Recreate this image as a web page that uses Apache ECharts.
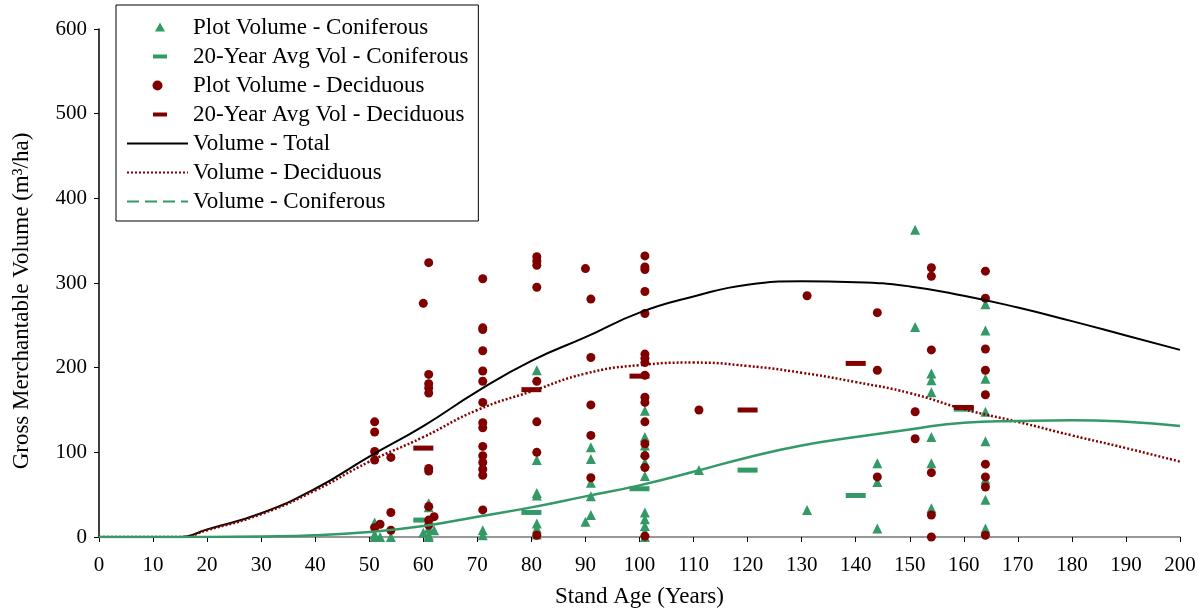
<!DOCTYPE html>
<html>
<head>
<meta charset="utf-8">
<script src="https://cdn.jsdelivr.net/npm/echarts@6/dist/echarts.min.js"></script>
<style>html,body{margin:0;padding:0;background:#fff;}#c{width:1199px;height:614px;}</style>
</head>
<body>
<div id="c"></div>
<script>
// ---- Data ----
const conPlot = [
  [51,17],[51,3],[51,0],[52,0],[54,0],
  [60,5],[61,40],[61,35],[61,10],[61,2],[61,0],[62,8],
  [71,8],[71,2],
  [81,197],[81,91],[81,52],[81,49],[81,16],[81,10],[81,3],
  [90,18],[91,106],[91,92],[91,64],[91,48],[91,26],
  [101,149],[101,118],[101,108],[101,100],[101,88],[101,72],[101,29],[101,21],[101,13],[101,6],[101,0],
  [111,79],[131,32],
  [144,87],[144,65],[144,10],
  [151,363],[151,248],
  [154,193],[154,185],[154,171],[154,118],[154,87],[154,34],
  [164,275],[164,244],[164,187],[164,148],[164,113],[164,68],[164,44],[164,10]
];
const conAvg = [[60,20],[80,29],[100,57],[120,79],[140,49],[160,151]];
const decPlot = [
  [51,136],[51,124],[51,101],[51,91],[52,15],[51,11],
  [54,94],[54,29],[54,8],
  [60,276],[61,324],[61,192],[61,181],[61,176],[61,170],[61,81],[61,78],[61,36],[61,20],[61,14],[62,24],
  [71,305],[71,247],[71,245],[71,220],[71,196],[71,184],[71,159],[71,135],[71,129],[71,107],[71,96],[71,88],[71,80],[71,73],[71,32],
  [81,331],[81,326],[81,321],[81,295],[81,184],[81,136],[81,100],[81,2],
  [90,317],[91,281],[91,212],[91,156],[91,120],[91,70],
  [101,332],[101,319],[101,316],[101,290],[101,264],[101,216],[101,211],[101,206],[101,191],[101,165],[101,159],[101,136],[101,110],[101,96],[101,82],[101,1],
  [111,150],[131,285],
  [144,265],[144,197],[144,71],
  [151,148],[151,116],
  [154,318],[154,308],[154,221],[154,76],[154,26],[154,0],
  [164,314],[164,282],[164,222],[164,197],[164,168],[164,86],[164,71],[164,59],[164,2]
];
const decAvg = [[60,105],[80,174],[100,190],[120,150],[140,205],[160,153]];
const curveAge = [0,10,15,20,30,40,50,60,70,80,90,100,110,120,130,140,150,160,170,180,190,200];
const totalVol = [0,0,0,9,28,57,95,131,172,208,236,265,284,298,302,301,296,285,271,255,238,221];
const decVol   = [0,0,0,8,27,55,89,118,150,172,193,203,206,202,194,183,170,151,136,120,105,89];
const conVol   = [0,0,0,0,0.5,2,6,13,24,35,48,61,77,94,108,118,127,135,137,138,136,131];
const xTicks = {min:0, max:200, interval:10};
const yTicks = {min:0, max:600, interval:100};

const GREEN = '#339966', RED = '#800000';
const FONT = 'Liberation Serif';
const zip = (a,b) => a.map((v,i)=>[v,b[i]]);

const chart = echarts.init(document.getElementById('c'), null, {renderer:'canvas'});
chart.setOption({
  animation:false,
  backgroundColor:'#fff',
  textStyle:{fontFamily:FONT, color:'#000'},
  grid:{left:99, right:19, top:29, bottom:77, containLabel:false},
  xAxis:{
    type:'value', min:xTicks.min, max:xTicks.max, interval:xTicks.interval,
    name:'Stand Age (Years)', nameLocation:'middle', nameGap:48,
    nameTextStyle:{fontFamily:FONT, fontSize:23, color:'#000'},
    axisLine:{show:true, lineStyle:{color:'#777', width:1.5}},
    axisTick:{show:true, inside:false, length:5, lineStyle:{color:'#000'}},
    axisLabel:{fontFamily:FONT, fontSize:21, color:'#000', margin:18},
    splitLine:{show:false}
  },
  yAxis:{
    type:'value', min:yTicks.min, max:yTicks.max, interval:yTicks.interval,
    name:'Gross Merchantable Volume (m³/ha)', nameLocation:'middle', nameGap:66,
    nameTextStyle:{fontFamily:FONT, fontSize:23, color:'#000', padding:[0,36,0,0]},
    axisLine:{show:true, lineStyle:{color:'#000', width:1.5}},
    axisTick:{show:true, inside:false, length:5, lineStyle:{color:'#000'}},
    axisLabel:{fontFamily:FONT, fontSize:21, color:'#000', margin:12},
    splitLine:{show:false}
  },
  legend:{
    orient:'vertical', left:116, top:5,
    padding:[11,10,8,10], itemGap:6, itemWidth:61, itemHeight:10,
    borderColor:'#000', borderWidth:1, backgroundColor:'#fff',
    textStyle:{fontFamily:FONT, fontSize:23, color:'#000'},
    data:[
      {name:'Plot Volume - Coniferous', icon:'path://M0,0 M61,10 M28,9 L33,0 L38,9 Z'},
      {name:'20-Year Avg Vol - Coniferous', icon:'path://M0,0 M61,10 M26,3 h14 v4 h-14 z'},
      {name:'Plot Volume - Deciduous', icon:'circle'},
      {name:'20-Year Avg Vol - Deciduous', icon:'path://M0,0 M61,10 M26,3 h14 v4 h-14 z'},
      {name:'Volume - Total', itemStyle:{opacity:0}},
      {name:'Volume - Deciduous', itemStyle:{opacity:0}},
      {name:'Volume - Coniferous', itemStyle:{opacity:0}, lineStyle:{type:[12,6]}}
    ]
  },
  series:[
    {name:'Plot Volume - Coniferous', type:'scatter', data:conPlot, symbol:'triangle', symbolSize:10, itemStyle:{color:GREEN, opacity:1}, z:2},
    {name:'20-Year Avg Vol - Coniferous', type:'scatter', data:conAvg, symbol:'rect', symbolSize:[20,5], itemStyle:{color:GREEN, opacity:1}, z:2},
    {name:'Plot Volume - Deciduous', type:'scatter', data:decPlot, symbol:'circle', symbolSize:9, itemStyle:{color:RED, opacity:1}, z:3},
    {name:'20-Year Avg Vol - Deciduous', type:'scatter', data:decAvg, symbol:'rect', symbolSize:[20,5], itemStyle:{color:RED, opacity:1}, z:3},
    {name:'Volume - Total', type:'line', data:zip(curveAge,totalVol), symbol:'none', showSymbol:false, smooth:0.5, lineStyle:{color:'#000', width:2}, itemStyle:{color:'#000'}, z:4},
    {name:'Volume - Deciduous', type:'line', data:zip(curveAge,decVol), symbol:'none', showSymbol:false, smooth:0.5, lineStyle:{color:RED, width:2.5, type:[2,2]}, itemStyle:{color:RED}, z:4},
    {name:'Volume - Coniferous', type:'line', data:zip(curveAge,conVol), symbol:'none', showSymbol:false, smooth:0.5, lineStyle:{color:GREEN, width:2.5}, itemStyle:{color:GREEN}, z:4}
  ]
});
</script>
</body>
</html>
